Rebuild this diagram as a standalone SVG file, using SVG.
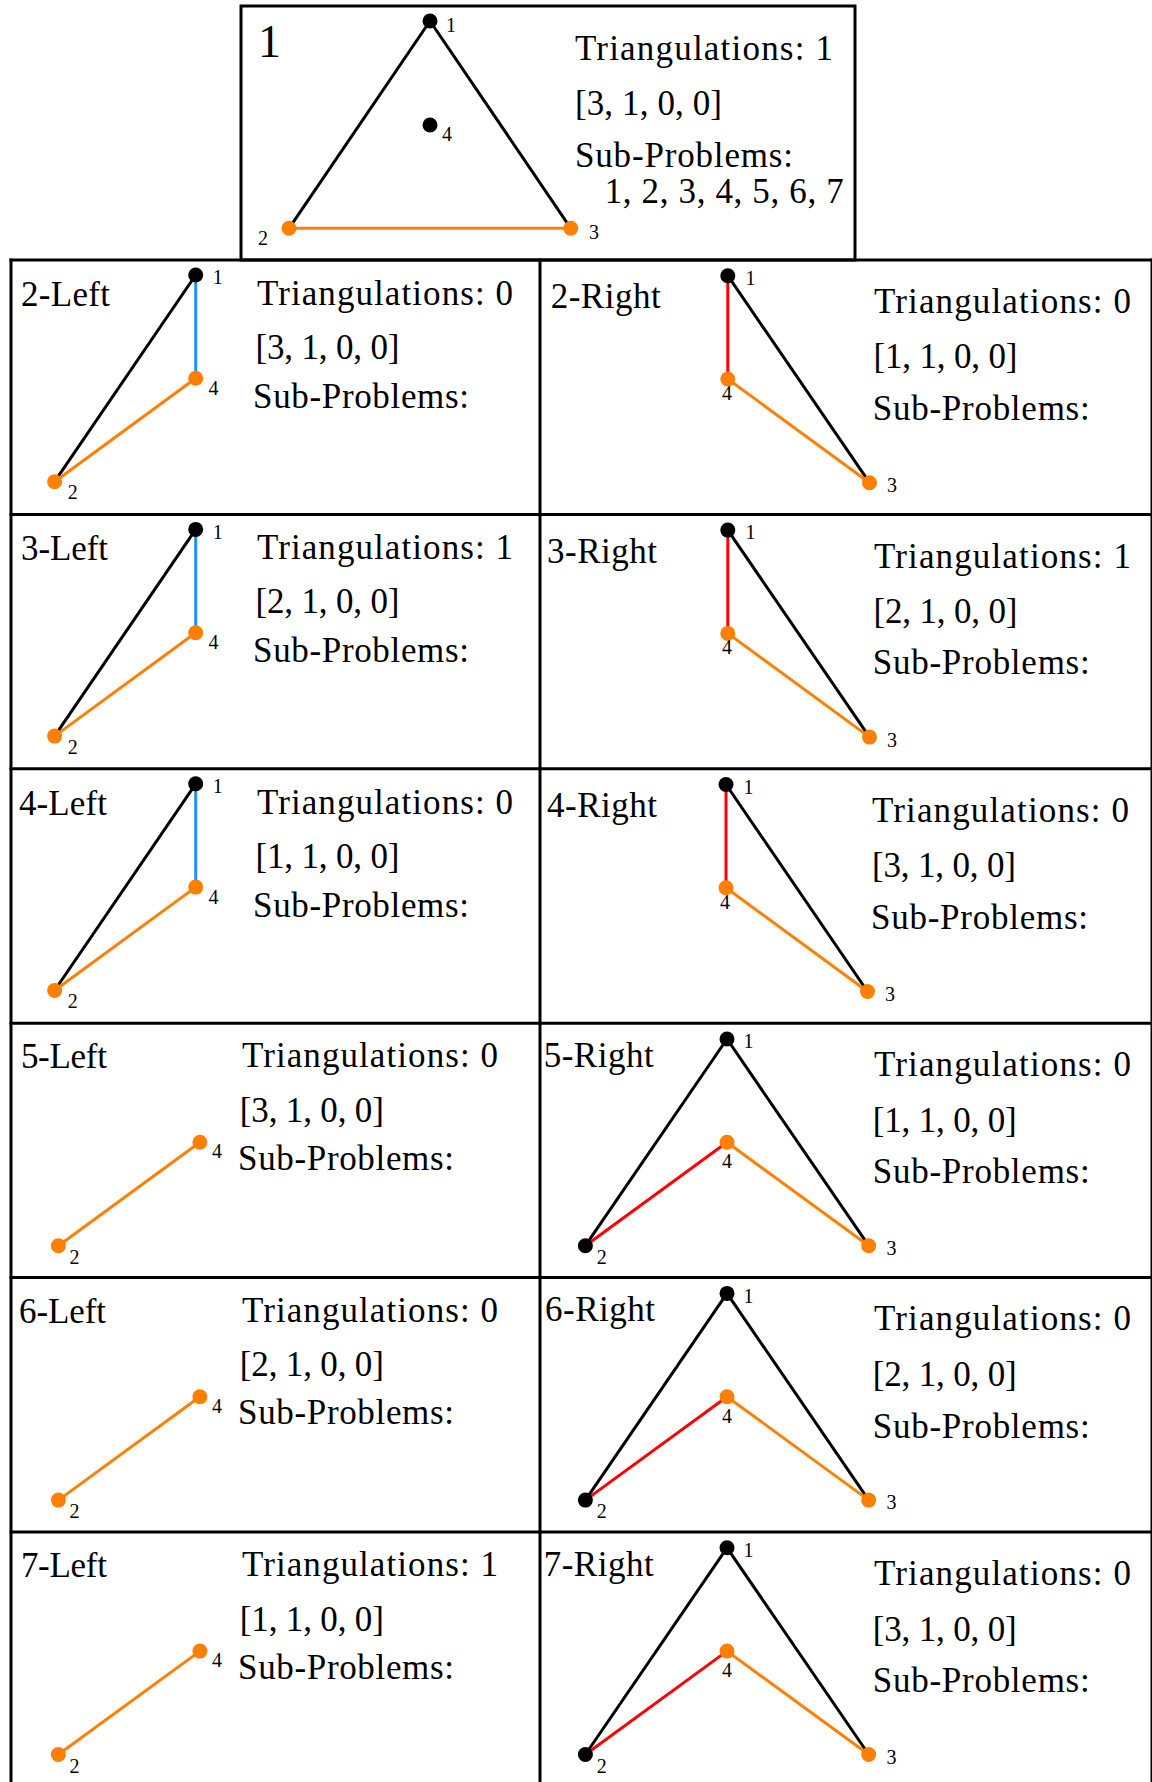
<svg xmlns="http://www.w3.org/2000/svg" width="1152" height="1782" viewBox="0 0 1152 1782">
<style>
.t{font-family:"Liberation Serif","Times New Roman",serif;font-size:35px;fill:#000}
.big{font-size:46px}
.s{font-size:20px}
.k{stroke:#000;stroke-width:3;fill:none}
.o{stroke:#ff8000;stroke-width:3;fill:none}
.b{stroke:#1e90ff;stroke-width:3;fill:none}
.r{stroke:#ff0000;stroke-width:3;fill:none}
.nb{fill:#000}
.no{fill:#ff8000}
.fr{stroke:#000;stroke-width:3;fill:none}
</style>
<rect width="1152" height="1782" fill="#fff"/>
<g id="frame">
<rect class="fr" x="241" y="6" width="614" height="254"/>
<line class="fr" x1="9.5" y1="260" x2="1152" y2="260"/>
<line class="fr" x1="9.5" y1="514.4" x2="1152" y2="514.4"/>
<line class="fr" x1="9.5" y1="768.8" x2="1152" y2="768.8"/>
<line class="fr" x1="9.5" y1="1023.2" x2="1152" y2="1023.2"/>
<line class="fr" x1="9.5" y1="1277.6" x2="1152" y2="1277.6"/>
<line class="fr" x1="9.5" y1="1532" x2="1152" y2="1532"/>
<line class="fr" x1="11" y1="258.5" x2="11" y2="1782"/>
<line class="fr" x1="540" y1="258.5" x2="540" y2="1782"/>
<line class="fr" x1="1152" y1="258.5" x2="1152" y2="1782"/>
</g>

<g id="panel-1">
<g id="edges-1">
<line class="k" x1="430" y1="21" x2="289" y2="228.3"/>
<line class="k" x1="430" y1="21" x2="570.8" y2="228.3"/>
<line class="o" x1="289" y1="228.3" x2="570.8" y2="228.3"/>
</g>
<g id="p1-n1"><circle class="nb" cx="430" cy="21" r="7.5"/><text class="t s" x="446" y="31.7">1</text></g>
<g id="p1-n4"><circle class="nb" cx="430" cy="125" r="7.5"/><text class="t s" x="442" y="140.7">4</text></g>
<g id="p1-n2"><circle class="no" cx="289" cy="228.3" r="7.5"/><text class="t s" x="258" y="245">2</text></g>
<g id="p1-n3"><circle class="no" cx="570.8" cy="228.3" r="7.5"/><text class="t s" x="589" y="239">3</text></g>
<text class="t big" x="258" y="57">1</text>
<text class="t" x="575" y="60" textLength="258" lengthAdjust="spacing">Triangulations: 1</text>
<text class="t" x="575" y="115" textLength="147" lengthAdjust="spacing">[3, 1, 0, 0]</text>
<text class="t" x="575" y="166.7" textLength="218" lengthAdjust="spacing">Sub-Problems:</text>
<text class="t" x="604.7" y="203.3" textLength="239" lengthAdjust="spacing">1, 2, 3, 4, 5, 6, 7</text>
</g>

<!-- Row 2 Left -->
<g id="panel-2-left">
<g id="edges-2-left">
<line class="k" x1="195.7" y1="275" x2="54.6" y2="481.7"/>
<line class="b" x1="195.7" y1="275" x2="195.7" y2="378.3"/>
<line class="o" x1="195.7" y1="378.3" x2="54.6" y2="481.7"/>
</g>
<g id="p2l-n1"><circle class="nb" cx="195.7" cy="275" r="7.5"/><text class="t s" x="212.7" y="284.3">1</text></g>
<g id="p2l-n4"><circle class="no" cx="195.7" cy="378.3" r="7.5"/><text class="t s" x="208.5" y="395">4</text></g>
<g id="p2l-n2"><circle class="no" cx="54.6" cy="481.7" r="7.5"/><text class="t s" x="67.8" y="499.3">2</text></g>
<text class="t" x="21" y="305.7" textLength="89" lengthAdjust="spacing">2-Left</text>
<text class="t" x="257" y="305" textLength="256" lengthAdjust="spacing">Triangulations: 0</text>
<text class="t" x="255.5" y="359" textLength="144" lengthAdjust="spacing">[3, 1, 0, 0]</text>
<text class="t" x="253" y="407.7" textLength="216" lengthAdjust="spacing">Sub-Problems:</text>
</g>

<!-- Row 3 Left -->
<g id="panel-3-left">
<g id="edges-3-left">
<line class="k" x1="195.7" y1="529.4" x2="54.6" y2="736.1"/>
<line class="b" x1="195.7" y1="529.4" x2="195.7" y2="632.7"/>
<line class="o" x1="195.7" y1="632.7" x2="54.6" y2="736.1"/>
</g>
<g id="p3l-n1"><circle class="nb" cx="195.7" cy="529.4" r="7.5"/><text class="t s" x="212.7" y="538.7">1</text></g>
<g id="p3l-n4"><circle class="no" cx="195.7" cy="632.7" r="7.5"/><text class="t s" x="208.5" y="649.4">4</text></g>
<g id="p3l-n2"><circle class="no" cx="54.6" cy="736.1" r="7.5"/><text class="t s" x="67.8" y="753.7">2</text></g>
<text class="t" x="21" y="560.1" textLength="87" lengthAdjust="spacing">3-Left</text>
<text class="t" x="257" y="559.4" textLength="256" lengthAdjust="spacing">Triangulations: 1</text>
<text class="t" x="255.5" y="613.4" textLength="144" lengthAdjust="spacing">[2, 1, 0, 0]</text>
<text class="t" x="253" y="662.1" textLength="216" lengthAdjust="spacing">Sub-Problems:</text>
</g>

<!-- Row 4 Left -->
<g id="panel-4-left">
<g id="edges-4-left">
<line class="k" x1="195.7" y1="783.8" x2="54.6" y2="990.5"/>
<line class="b" x1="195.7" y1="783.8" x2="195.7" y2="887.1"/>
<line class="o" x1="195.7" y1="887.1" x2="54.6" y2="990.5"/>
</g>
<g id="p4l-n1"><circle class="nb" cx="195.7" cy="783.8" r="7.5"/><text class="t s" x="212.7" y="793.1">1</text></g>
<g id="p4l-n4"><circle class="no" cx="195.7" cy="887.1" r="7.5"/><text class="t s" x="208.5" y="903.8">4</text></g>
<g id="p4l-n2"><circle class="no" cx="54.6" cy="990.5" r="7.5"/><text class="t s" x="67.8" y="1008.1">2</text></g>
<text class="t" x="19" y="814.5" textLength="88" lengthAdjust="spacing">4-Left</text>
<text class="t" x="257" y="813.8" textLength="256" lengthAdjust="spacing">Triangulations: 0</text>
<text class="t" x="255.5" y="867.8" textLength="144" lengthAdjust="spacing">[1, 1, 0, 0]</text>
<text class="t" x="253" y="916.5" textLength="216" lengthAdjust="spacing">Sub-Problems:</text>
</g>

<!-- Row 5 Left -->
<g id="panel-5-left">
<g id="edges-5-left">
<line class="o" x1="199.9" y1="1142.3" x2="58.4" y2="1245.7"/>
</g>
<g id="p5l-n4"><circle class="no" cx="199.9" cy="1142.3" r="7.5"/><text class="t s" x="212" y="1158.3">4</text></g>
<g id="p5l-n2"><circle class="no" cx="58.4" cy="1245.7" r="7.5"/><text class="t s" x="69.5" y="1264">2</text></g>
<text class="t" x="20.9" y="1068.3" textLength="86" lengthAdjust="spacing">5-Left</text>
<text class="t" x="242" y="1067.3" textLength="256" lengthAdjust="spacing">Triangulations: 0</text>
<text class="t" x="239.8" y="1121.7" textLength="144" lengthAdjust="spacing">[3, 1, 0, 0]</text>
<text class="t" x="238" y="1170" textLength="216" lengthAdjust="spacing">Sub-Problems:</text>
</g>

<!-- Row 6 Left -->
<g id="panel-6-left">
<g id="edges-6-left">
<line class="o" x1="199.9" y1="1396.7" x2="58.4" y2="1500.1"/>
</g>
<g id="p6l-n4"><circle class="no" cx="199.9" cy="1396.7" r="7.5"/><text class="t s" x="212" y="1412.7">4</text></g>
<g id="p6l-n2"><circle class="no" cx="58.4" cy="1500.1" r="7.5"/><text class="t s" x="69.5" y="1518.4">2</text></g>
<text class="t" x="19" y="1322.7" textLength="87" lengthAdjust="spacing">6-Left</text>
<text class="t" x="242" y="1321.7" textLength="256" lengthAdjust="spacing">Triangulations: 0</text>
<text class="t" x="239.8" y="1376.1" textLength="144" lengthAdjust="spacing">[2, 1, 0, 0]</text>
<text class="t" x="238" y="1424.4" textLength="216" lengthAdjust="spacing">Sub-Problems:</text>
</g>

<!-- Row 7 Left -->
<g id="panel-7-left">
<g id="edges-7-left">
<line class="o" x1="199.9" y1="1651.1" x2="58.4" y2="1754.5"/>
</g>
<g id="p7l-n4"><circle class="no" cx="199.9" cy="1651.1" r="7.5"/><text class="t s" x="212" y="1667.1">4</text></g>
<g id="p7l-n2"><circle class="no" cx="58.4" cy="1754.5" r="7.5"/><text class="t s" x="69.5" y="1772.8">2</text></g>
<text class="t" x="20.9" y="1577.1" textLength="86" lengthAdjust="spacing">7-Left</text>
<text class="t" x="242" y="1576.1" textLength="256" lengthAdjust="spacing">Triangulations: 1</text>
<text class="t" x="239.8" y="1630.5" textLength="144" lengthAdjust="spacing">[1, 1, 0, 0]</text>
<text class="t" x="238" y="1678.8" textLength="216" lengthAdjust="spacing">Sub-Problems:</text>
</g>

<!-- Row 2 Right -->
<g id="panel-2-right">
<g id="edges-2-right">
<line class="r" x1="727.8" y1="275.7" x2="727.8" y2="379"/>
<line class="k" x1="727.8" y1="275.7" x2="869.5" y2="482.7"/>
<line class="o" x1="727.8" y1="379" x2="869.5" y2="482.7"/>
</g>
<g id="p2r-n1"><circle class="nb" cx="727.8" cy="275.7" r="7.5"/><text class="t s" x="745.5" y="285">1</text></g>
<g id="p2r-n4"><circle class="no" cx="727.8" cy="379" r="7.5"/><text class="t s" x="722" y="400">4</text></g>
<g id="p2r-n3"><circle class="no" cx="869.5" cy="482.7" r="7.5"/><text class="t s" x="887" y="492.3">3</text></g>
<text class="t" x="550.7" y="308.3" textLength="110" lengthAdjust="spacing">2-Right</text>
<text class="t" x="874" y="313.3" textLength="257" lengthAdjust="spacing">Triangulations: 0</text>
<text class="t" x="873.5" y="368.3" textLength="144" lengthAdjust="spacing">[1, 1, 0, 0]</text>
<text class="t" x="872.7" y="420" textLength="217" lengthAdjust="spacing">Sub-Problems:</text>
</g>

<!-- Row 3 Right -->
<g id="panel-3-right">
<g id="edges-3-right">
<line class="r" x1="727.8" y1="530.1" x2="727.8" y2="633.4"/>
<line class="k" x1="727.8" y1="530.1" x2="869.5" y2="737.1"/>
<line class="o" x1="727.8" y1="633.4" x2="869.5" y2="737.1"/>
</g>
<g id="p3r-n1"><circle class="nb" cx="727.8" cy="530.1" r="7.5"/><text class="t s" x="745.5" y="539.4">1</text></g>
<g id="p3r-n4"><circle class="no" cx="727.8" cy="633.4" r="7.5"/><text class="t s" x="722" y="654.4">4</text></g>
<g id="p3r-n3"><circle class="no" cx="869.5" cy="737.1" r="7.5"/><text class="t s" x="887" y="746.7">3</text></g>
<text class="t" x="547" y="562.7" textLength="110" lengthAdjust="spacing">3-Right</text>
<text class="t" x="874" y="567.7" textLength="257" lengthAdjust="spacing">Triangulations: 1</text>
<text class="t" x="873.5" y="622.7" textLength="144" lengthAdjust="spacing">[2, 1, 0, 0]</text>
<text class="t" x="872.7" y="674.4" textLength="217" lengthAdjust="spacing">Sub-Problems:</text>
</g>

<!-- Row 4 Right -->
<g id="panel-4-right">
<g id="edges-4-right">
<line class="r" x1="726" y1="784.5" x2="726" y2="887.8"/>
<line class="k" x1="726" y1="784.5" x2="867.5" y2="991.5"/>
<line class="o" x1="726" y1="887.8" x2="867.5" y2="991.5"/>
</g>
<g id="p4r-n1"><circle class="nb" cx="726" cy="784.5" r="7.5"/><text class="t s" x="743.5" y="793.8">1</text></g>
<g id="p4r-n4"><circle class="no" cx="726" cy="887.8" r="7.5"/><text class="t s" x="720" y="908.8">4</text></g>
<g id="p4r-n3"><circle class="no" cx="867.5" cy="991.5" r="7.5"/><text class="t s" x="885" y="1001.1">3</text></g>
<text class="t" x="547" y="817.1" textLength="110" lengthAdjust="spacing">4-Right</text>
<text class="t" x="872" y="822.1" textLength="257" lengthAdjust="spacing">Triangulations: 0</text>
<text class="t" x="872" y="877.1" textLength="144" lengthAdjust="spacing">[3, 1, 0, 0]</text>
<text class="t" x="871" y="928.8" textLength="217" lengthAdjust="spacing">Sub-Problems:</text>
</g>

<!-- Row 5 Right -->
<g id="panel-5-right">
<g id="edges-5-right">
<line class="k" x1="727" y1="1039" x2="585.4" y2="1245.7"/>
<line class="k" x1="727" y1="1039" x2="868.7" y2="1245.7"/>
<line class="r" x1="585.4" y1="1245.7" x2="727" y2="1142.3"/>
<line class="o" x1="727" y1="1142.3" x2="868.7" y2="1245.7"/>
</g>
<g id="p5r-n1"><circle class="nb" cx="727" cy="1039" r="7.5"/><text class="t s" x="743.6" y="1048.3">1</text></g>
<g id="p5r-n4"><circle class="no" cx="727" cy="1142.3" r="7.5"/><text class="t s" x="722" y="1168.3">4</text></g>
<g id="p5r-n2"><circle class="nb" cx="585.4" cy="1245.7" r="7.5"/><text class="t s" x="596.8" y="1264">2</text></g>
<g id="p5r-n3"><circle class="no" cx="868.7" cy="1245.7" r="7.5"/><text class="t s" x="886.4" y="1255">3</text></g>
<text class="t" x="543.7" y="1066.7" textLength="110" lengthAdjust="spacing">5-Right</text>
<text class="t" x="874" y="1075.7" textLength="257" lengthAdjust="spacing">Triangulations: 0</text>
<text class="t" x="872.7" y="1131.7" textLength="144" lengthAdjust="spacing">[1, 1, 0, 0]</text>
<text class="t" x="872.7" y="1183.3" textLength="217" lengthAdjust="spacing">Sub-Problems:</text>
</g>

<!-- Row 6 Right -->
<g id="panel-6-right">
<g id="edges-6-right">
<line class="k" x1="727" y1="1293.4" x2="585.4" y2="1500.1"/>
<line class="k" x1="727" y1="1293.4" x2="868.7" y2="1500.1"/>
<line class="r" x1="585.4" y1="1500.1" x2="727" y2="1396.7"/>
<line class="o" x1="727" y1="1396.7" x2="868.7" y2="1500.1"/>
</g>
<g id="p6r-n1"><circle class="nb" cx="727" cy="1293.4" r="7.5"/><text class="t s" x="743.6" y="1302.7">1</text></g>
<g id="p6r-n4"><circle class="no" cx="727" cy="1396.7" r="7.5"/><text class="t s" x="722" y="1422.7">4</text></g>
<g id="p6r-n2"><circle class="nb" cx="585.4" cy="1500.1" r="7.5"/><text class="t s" x="596.8" y="1518.4">2</text></g>
<g id="p6r-n3"><circle class="no" cx="868.7" cy="1500.1" r="7.5"/><text class="t s" x="886.4" y="1509.4">3</text></g>
<text class="t" x="545" y="1321.1" textLength="110" lengthAdjust="spacing">6-Right</text>
<text class="t" x="874" y="1330.1" textLength="257" lengthAdjust="spacing">Triangulations: 0</text>
<text class="t" x="872.7" y="1386.1" textLength="144" lengthAdjust="spacing">[2, 1, 0, 0]</text>
<text class="t" x="872.7" y="1437.7" textLength="217" lengthAdjust="spacing">Sub-Problems:</text>
</g>

<!-- Row 7 Right -->
<g id="panel-7-right">
<g id="edges-7-right">
<line class="k" x1="727" y1="1547.8" x2="585.4" y2="1754.5"/>
<line class="k" x1="727" y1="1547.8" x2="868.7" y2="1754.5"/>
<line class="r" x1="585.4" y1="1754.5" x2="727" y2="1651.1"/>
<line class="o" x1="727" y1="1651.1" x2="868.7" y2="1754.5"/>
</g>
<g id="p7r-n1"><circle class="nb" cx="727" cy="1547.8" r="7.5"/><text class="t s" x="743.6" y="1557.1">1</text></g>
<g id="p7r-n4"><circle class="no" cx="727" cy="1651.1" r="7.5"/><text class="t s" x="722" y="1677.1">4</text></g>
<g id="p7r-n2"><circle class="nb" cx="585.4" cy="1754.5" r="7.5"/><text class="t s" x="596.8" y="1772.8">2</text></g>
<g id="p7r-n3"><circle class="no" cx="868.7" cy="1754.5" r="7.5"/><text class="t s" x="886.4" y="1763.8">3</text></g>
<text class="t" x="543.7" y="1575.5" textLength="110" lengthAdjust="spacing">7-Right</text>
<text class="t" x="874" y="1584.5" textLength="257" lengthAdjust="spacing">Triangulations: 0</text>
<text class="t" x="872.7" y="1640.5" textLength="144" lengthAdjust="spacing">[3, 1, 0, 0]</text>
<text class="t" x="872.7" y="1692.1" textLength="217" lengthAdjust="spacing">Sub-Problems:</text>
</g>
</svg>
